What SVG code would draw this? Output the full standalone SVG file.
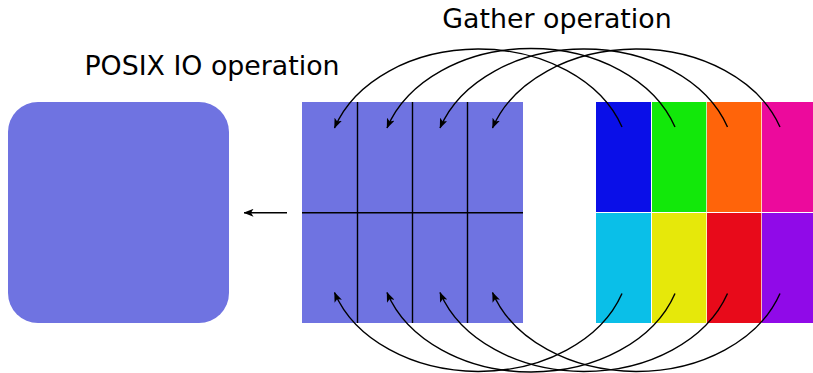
<svg xmlns="http://www.w3.org/2000/svg" width="813" height="373" viewBox="0 0 813 373">
  <style>
    .lbl { font-family: "DejaVu Sans", "Liberation Sans", sans-serif; font-size: 26.8px; fill: #000; text-anchor: middle; }
    .blk { fill: #6f73e1; }
    .grid { stroke: #000; stroke-width: 1.4; fill: none; }
    .arc { stroke: #000; stroke-width: 1.4; fill: none; marker-end: url(#ah); }
  </style>
  <defs>
    <marker id="ah" markerUnits="userSpaceOnUse" viewBox="0 0 10 8" refX="9.5" refY="4" markerWidth="10" markerHeight="8" orient="auto">
      <path d="M0,0 L10,4 L0,8 L2.5,4 z" fill="#000"/>
    </marker>
  </defs>
  <rect width="813" height="373" fill="#fff"/>

  <text class="lbl" x="212" y="74.5">POSIX IO operation</text>
  <text class="lbl" x="557" y="28">Gather operation</text>

  <g id="posix-block">
    <rect class="blk" x="8" y="102" width="221" height="221" rx="30" ry="30"/>
  </g>

  <g id="gather-buffer">
    <rect class="blk" x="302" y="102" width="221" height="221"/>
    <path class="grid" d="M357.5,102 V323 M412.5,102 V323 M467.5,102 V323 M302,212.8 H523"/>
  </g>

  <g id="sources">
    <rect x="596" y="102" width="55" height="110" fill="#0a0fe8"/>
    <rect x="652" y="102" width="54.3" height="110" fill="#12e80a"/>
    <rect x="707" y="102" width="54.3" height="110" fill="#ff640a"/>
    <rect x="762" y="102" width="55" height="110" fill="#ec0a9c"/>
    <rect x="596" y="213" width="55" height="110" fill="#0abfe8"/>
    <rect x="652" y="213" width="54.3" height="110" fill="#e6e80a"/>
    <rect x="707" y="213" width="54.3" height="110" fill="#e80a1a"/>
    <rect x="762" y="213" width="55" height="110" fill="#900ae8"/>
  </g>

  <g id="connectors">
    <path class="arc" d="M287,212.8 H244"/>
    <path class="arc" d="M622,127 A151.3 114 0 0 0 334.5,128"/>
    <path class="arc" d="M675,127 A151.3 114 0 0 0 387,128"/>
    <path class="arc" d="M727.5,127 A151.3 114 0 0 0 440,128"/>
    <path class="arc" d="M780,127 A151.3 114 0 0 0 492.5,128"/>
    <path class="arc" d="M622,293.5 A151.3 114 0 0 1 334.5,292.5"/>
    <path class="arc" d="M675,293.5 A151.3 114 0 0 1 387,292.5"/>
    <path class="arc" d="M727.5,293.5 A151.3 114 0 0 1 440,292.5"/>
    <path class="arc" d="M780,293.5 A151.3 114 0 0 1 492.5,292.5"/>
  </g>
</svg>
